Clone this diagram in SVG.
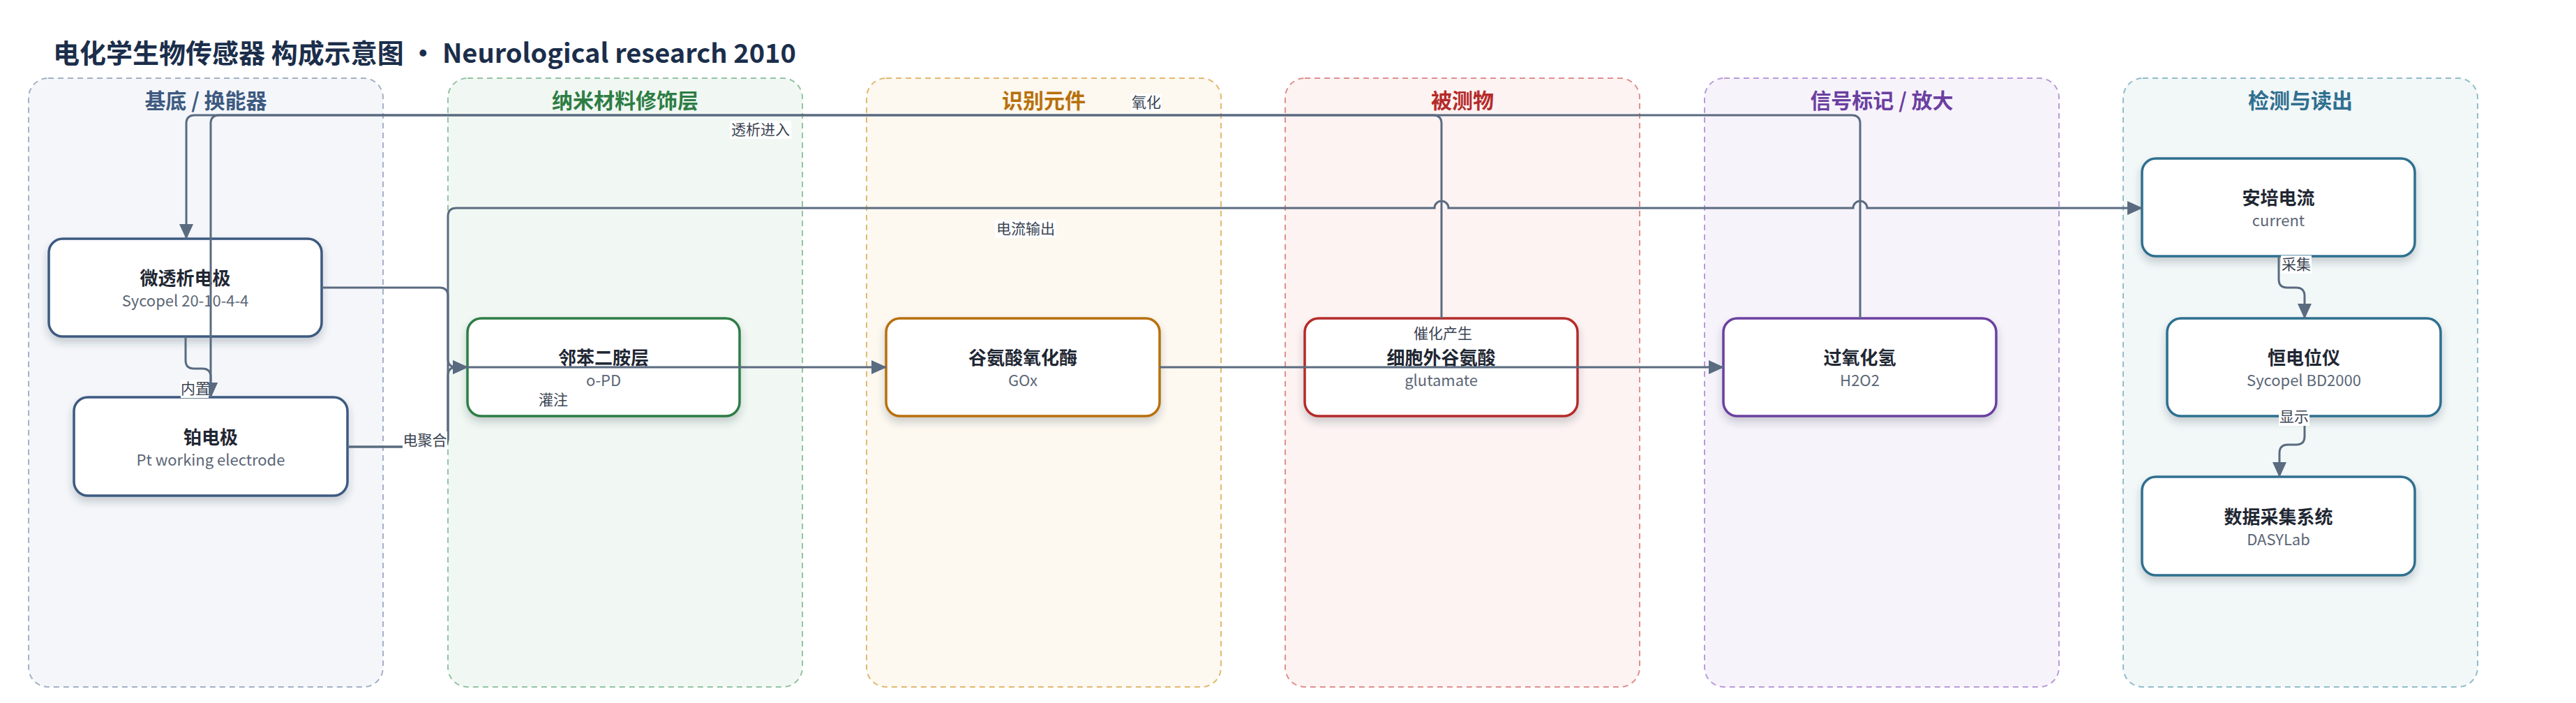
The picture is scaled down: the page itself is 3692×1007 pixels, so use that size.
<svg xmlns="http://www.w3.org/2000/svg" width="3692" height="1007" viewBox="0 0 3692 1007">
<defs>
<style>
text{font-family:'Noto Sans CJK SC','Noto Sans',sans-serif}
.title{font-size:38px;font-weight:700;fill:#1b2e4b}
.lane{stroke-width:2;stroke-dasharray:8 6}
.lt{font-size:30px;font-weight:700;text-anchor:middle}
.node{fill:#fff;stroke-width:3.5;filter:url(#sh)}
.nt{font-size:26px;font-weight:700;fill:#1f2733;text-anchor:middle}
.ns{font-size:22px;fill:#5b6676;text-anchor:middle}
.e{fill:none;stroke:#5a6b80;stroke-width:3}
.ea{fill:none;stroke:#5a6b80;stroke-width:3;marker-end:url(#arr)}
.lb{fill:#fff}
.lt2{font-size:21px;fill:#3a4352;text-anchor:middle}
</style>
<marker id="arr" markerUnits="userSpaceOnUse" markerWidth="22" markerHeight="20" refX="21" refY="10" orient="auto"><path d="M0,0 L22,10 L0,20 z" fill="#5a6b80"/></marker>
<filter id="sh" x="-10%" y="-10%" width="120%" height="135%"><feDropShadow dx="0" dy="7" stdDeviation="6" flood-color="#1f2d3d" flood-opacity="0.22"/></filter>
</defs>
<rect width="3692" height="1007" fill="#fff"/>
<text class="title" x="76" y="90">电化学生物传感器 构成示意图 · Neurological research 2010</text>
<g id="lanes">
<g id="lane-substrate"><rect class="lane" x="41" y="112" width="508" height="872" rx="28" fill="#f4f6fa" stroke="#a3b1c6"/><text class="lt" x="295" y="155" fill="#3d5a80">基底 / 换能器</text></g>
<g id="lane-nano"><rect class="lane" x="642" y="112" width="508" height="872" rx="28" fill="#f1f8f3" stroke="#93c4a3"/><text class="lt" x="896" y="155" fill="#2e7d45">纳米材料修饰层</text></g>
<g id="lane-recog"><rect class="lane" x="1242" y="112" width="508" height="872" rx="28" fill="#fdf8f0" stroke="#e2b96f"/><text class="lt" x="1496" y="155" fill="#b7700b">识别元件</text></g>
<g id="lane-analyte"><rect class="lane" x="1842" y="112" width="508" height="872" rx="28" fill="#fdf3f2" stroke="#e08f8f"/><text class="lt" x="2096" y="155" fill="#b52a2a">被测物</text></g>
<g id="lane-signal"><rect class="lane" x="2443" y="112" width="508" height="872" rx="28" fill="#f7f3fb" stroke="#b99bd8"/><text class="lt" x="2697" y="155" fill="#6b3fa0">信号标记 / 放大</text></g>
<g id="lane-detect"><rect class="lane" x="3043" y="112" width="508" height="872" rx="28" fill="#f2f7f8" stroke="#92bccb"/><text class="lt" x="3297" y="155" fill="#2f6f8f">检测与读出</text></g>
</g>
<g id="nodes">
<g id="n-microdialysis"><rect class="node" x="70" y="342" width="391" height="140" rx="20" stroke="#3d5a80"/><text class="nt" x="265.5" y="408">微透析电极</text><text class="ns" x="265.5" y="439">Sycopel 20-10-4-4</text></g>
<g id="n-pt"><rect class="node" x="106" y="569" width="392" height="141" rx="20" stroke="#3d5a80"/><text class="nt" x="302" y="636">铂电极</text><text class="ns" x="302" y="667">Pt working electrode</text></g>
<g id="n-opd"><rect class="node" x="670" y="456" width="390" height="140" rx="20" stroke="#2e7d45"/><text class="nt" x="865" y="522">邻苯二胺层</text><text class="ns" x="865" y="553">o-PD</text></g>
<g id="n-gox"><rect class="node" x="1270" y="456" width="392" height="140" rx="20" stroke="#b7700b"/><text class="nt" x="1466" y="522">谷氨酸氧化酶</text><text class="ns" x="1466" y="553">GOx</text></g>
<g id="n-glu"><rect class="node" x="1870" y="456" width="391" height="140" rx="20" stroke="#b52a2a"/><text class="nt" x="2065.5" y="522">细胞外谷氨酸</text><text class="ns" x="2065.5" y="553">glutamate</text></g>
<g id="n-h2o2"><rect class="node" x="2470" y="456" width="391" height="140" rx="20" stroke="#6b3fa0"/><text class="nt" x="2665.5" y="522">过氧化氢</text><text class="ns" x="2665.5" y="553">H2O2</text></g>
<g id="n-current"><rect class="node" x="3070" y="227" width="391" height="140" rx="20" stroke="#2f6f8f"/><text class="nt" x="3265.5" y="293">安培电流</text><text class="ns" x="3265.5" y="324">current</text></g>
<g id="n-potentiostat"><rect class="node" x="3106" y="456" width="392" height="140" rx="20" stroke="#2f6f8f"/><text class="nt" x="3302" y="522">恒电位仪</text><text class="ns" x="3302" y="553">Sycopel BD2000</text></g>
<g id="n-daq"><rect class="node" x="3070" y="683" width="391" height="141" rx="20" stroke="#2f6f8f"/><text class="nt" x="3265.5" y="750">数据采集系统</text><text class="ns" x="3265.5" y="781">DASYLab</text></g>
</g>
<g id="connectors">
<path class="ea" d="M2066,456 V177 Q2066,165 2054,165 H279 Q267,165 267,177 V342"/>
<path class="ea" d="M2666,456 V177 Q2666,165 2654,165 H314 Q302,165 302,177 V569"/>
<path class="ea" d="M266,482 V516 Q266,528 278,528 H290 Q302,528 302,540 V569"/>
<path class="ea" d="M461,412 H630 Q642,412 642,424 V514 Q642,526 654,526 H670"/>
<path class="ea" d="M498,640 H630 Q642,640 642,628 V538 Q642,526 654,526 H670"/>
<path class="ea" d="M498,640 H630 Q642,640 642,628 V310 Q642,298 654,298 H2056 A10,10 0 0 1 2076,298 H2656 A10,10 0 0 1 2676,298 H3070"/>
<path class="ea" d="M670,526 H1270"/>
<path class="ea" d="M1662,526 H2470"/>
<path class="ea" d="M3266,367 V400 Q3266,412 3278,412 H3291 Q3303,412 3303,424 V456"/>
<path class="ea" d="M3303,596 V625 Q3303,637 3291,637 H3279 Q3267,637 3267,649 V683"/>
</g>
<g id="labels">
<rect class="lb" x="259" y="544" width="40" height="26"/><text class="lt2" x="280" y="564">内置</text>
<rect class="lb" x="577" y="618" width="64" height="26"/><text class="lt2" x="609" y="638">电聚合</text>
<rect class="lb" x="771" y="560" width="44" height="26"/><text class="lt2" x="793" y="580">灌注</text>
<rect class="lb" x="1046" y="173" width="88" height="26"/><text class="lt2" x="1090" y="193">透析进入</text>
<rect class="lb" x="1621" y="134" width="44" height="26"/><text class="lt2" x="1643" y="154">氧化</text>
<rect class="lb" x="1426" y="315" width="88" height="26"/><text class="lt2" x="1470" y="335">电流输出</text>
<rect class="lb" x="2024" y="465" width="88" height="26"/><text class="lt2" x="2068" y="485">催化产生</text>
<rect class="lb" x="3269" y="366" width="44" height="26"/><text class="lt2" x="3291" y="386">采集</text>
<rect class="lb" x="3266" y="584" width="44" height="26"/><text class="lt2" x="3288" y="604">显示</text>
</g>
</svg>
